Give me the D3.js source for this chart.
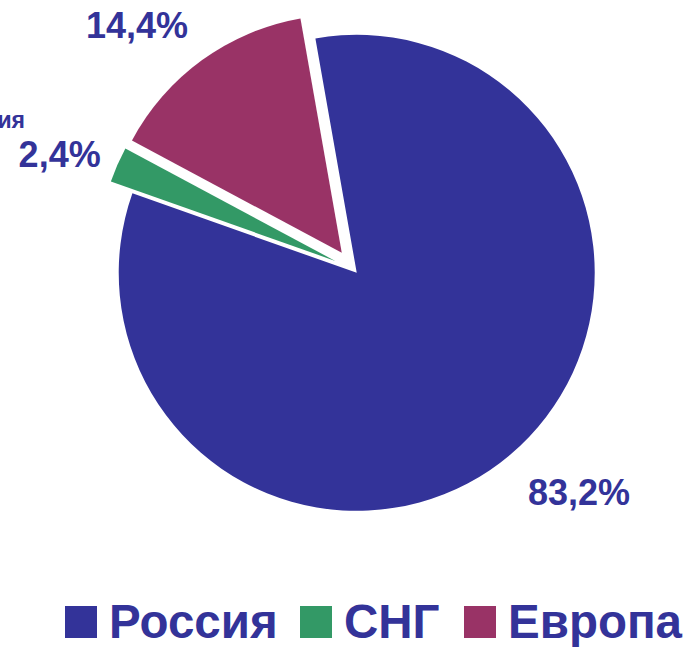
<!DOCTYPE html>
<html><head><meta charset="utf-8">
<script src="https://cdn.jsdelivr.net/npm/d3@7"></script>
<style>html,body{margin:0;padding:0;background:#fff;}svg{display:block;}</style>
</head><body>
<svg id="c" width="688" height="647"></svg>
<script>
const categories = ["Россия", "СНГ", "Европа"];
const values = [83.2, 2.4, 14.4];
const labels = ["83,2%", "2,4%", "14,4%"];
const colors = ["#333399", "#339966", "#993366"];
const explode = [5, 20, 20];

const svg = d3.select("#c");
const cx = 353.5, cy = 269, R = 238;
const deg = Math.PI / 180;
const startA = -10 * deg;

const pie = d3.pie().sort(null).startAngle(startA).endAngle(startA + 2 * Math.PI);
const arcs = pie(values);
const arc = d3.arc().innerRadius(0).outerRadius(R);
const mid = d => (d.startAngle + d.endAngle) / 2;

const g = svg.append("g").attr("transform", `translate(${cx},${cy})`);
g.selectAll("path").data(arcs).enter().append("path")
  .attr("d", arc)
  .attr("fill", (d, i) => colors[i])
  .attr("transform", (d, i) => `translate(${explode[i] * Math.sin(mid(d))},${-explode[i] * Math.cos(mid(d))})`);

// data labels: placed outside along mid-angle, then nudged
const labelR = 318;
const labelShift = [[20, -19], [-3, 14], [-30, 14]];
g.selectAll("text.lbl").data(arcs).enter().append("text")
  .attr("class", "lbl")
  .attr("x", (d, i) => labelR * Math.sin(mid(d)) + labelShift[i][0])
  .attr("y", (d, i) => -labelR * Math.cos(mid(d)) + labelShift[i][1])
  .attr("text-anchor", "middle")
  .attr("dominant-baseline", "central")
  .attr("font-family", "Liberation Sans, Arial, sans-serif")
  .attr("font-weight", "bold")
  .attr("font-size", 36)
  .attr("fill", "#333399")
  .text((d, i) => labels[i]);

// cut-off category text at left edge (as in the original)
svg.append("text")
  .attr("x", 25).attr("y", 128)
  .attr("text-anchor", "end")
  .attr("font-family", "Liberation Sans, Arial, sans-serif")
  .attr("font-weight", "bold")
  .attr("font-size", 23)
  .attr("fill", "#333399")
  .text(categories[0]);

// legend
const legX = [65, 300, 464];
const leg = svg.append("g").attr("transform", "translate(0,605)");
categories.forEach((c, i) => {
  leg.append("rect").attr("x", legX[i]).attr("y", 1).attr("width", 32).attr("height", 32).attr("fill", colors[i]);
  leg.append("text").attr("x", legX[i] + 44).attr("y", 33)
    .attr("font-family", "Liberation Sans, Arial, sans-serif")
    .attr("font-weight", "bold").attr("font-size", 47.5)
    .attr("fill", "#333399").text(c);
});
</script>
</body></html>
